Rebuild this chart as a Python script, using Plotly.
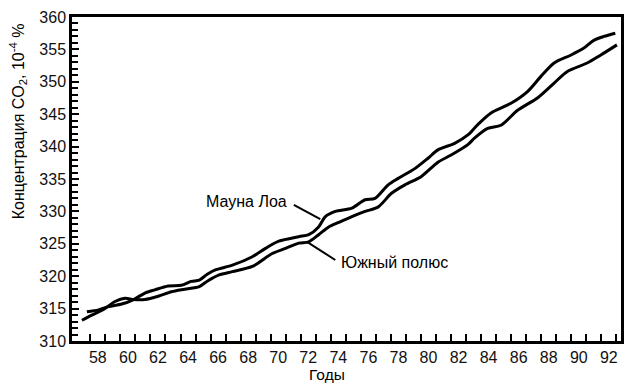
import plotly.graph_objects as go

# Mauna Loa series (year 19xx, CO2 concentration in 10^-4 %)
ml_years = [57.27, 58.05, 58.71, 59.59, 60.38, 61.13, 61.79, 62.68, 63.56, 64.22,
            64.75, 65.28, 65.86, 66.95, 68.28, 69.16, 70.04, 71.37, 72.03, 72.69,
            73.14, 73.80, 74.90, 75.78, 76.44, 77.32, 77.99, 79.09, 79.97, 80.63,
            81.74, 82.62, 83.28, 84.16, 85.49, 86.59, 87.47, 88.36, 89.46, 90.34,
            91.00, 91.67, 92.43]
ml_values = [314.5, 314.8, 315.3, 315.7, 316.4, 317.4, 317.9, 318.5, 318.6, 319.2,
             319.4, 320.3, 321.0, 321.7, 323.0, 324.3, 325.4, 326.1, 326.4, 327.6,
             329.2, 330.0, 330.5, 331.8, 332.0, 334.1, 335.1, 336.6, 338.2, 339.5,
             340.5, 341.8, 343.4, 345.2, 346.7, 348.5, 350.8, 352.9, 354.1, 355.2,
             356.4, 357.0, 357.5]

# South Pole series
sp_years = [56.94, 57.60, 58.46, 59.14, 59.81, 60.38, 61.13, 62.02, 62.90, 63.78,
            64.75, 65.33, 66.07, 66.95, 68.28, 69.60, 70.49, 71.37, 72.03, 72.69,
            73.36, 74.02, 74.90, 75.78, 76.66, 77.54, 78.43, 79.53, 80.63, 81.51,
            82.62, 83.06, 83.94, 84.82, 85.93, 87.25, 88.36, 89.24, 90.56, 91.44,
            92.54]
sp_values = [313.2, 314.0, 315.0, 316.1, 316.6, 316.4, 316.4, 316.9, 317.6, 318.0,
             318.4, 319.3, 320.2, 320.7, 321.5, 323.5, 324.3, 325.1, 325.3, 326.4,
             327.6, 328.3, 329.2, 330.0, 330.7, 332.8, 334.1, 335.4, 337.6, 338.7,
             340.3, 341.3, 342.8, 343.3, 345.6, 347.5, 349.8, 351.6, 352.9, 354.1,
             355.7]

x_tick_vals = list(range(58, 93, 2))
x_tick_text = [str(v) for v in x_tick_vals]
x_minor_vals = [v + 0.5 for v in range(57, 93)]
y_tick_vals = list(range(310, 361, 5))

# label texts and anchor points (data coordinates)
ml_label = "Мауна Лоа"
sp_label = "Южный полюс"
ml_label_pos = (67.88, 331.6)
sp_label_pos = (77.72, 322.1)
ml_leader = ((71.04, 331.0), (72.80, 328.8))
sp_leader = ((71.92, 325.3), (73.80, 322.5))

FONT = "Liberation Sans, Arial, sans-serif"

fig = go.Figure()
for xs, ys, name in [(ml_years, ml_values, ml_label), (sp_years, sp_values, sp_label)]:
    fig.add_trace(go.Scatter(
        x=xs, y=ys, mode="lines", name=name,
        line=dict(color="black", width=3, shape="spline", smoothing=0.8),
        showlegend=False, hoverinfo="x+y",
    ))

for (x0, y0), (x1, y1) in [ml_leader, sp_leader]:
    fig.add_shape(type="line", xref="x", yref="y", x0=x0, y0=y0, x1=x1, y1=y1,
                  line=dict(color="black", width=2))

fig.add_annotation(x=ml_label_pos[0], y=ml_label_pos[1], text=ml_label, showarrow=False,
                   xanchor="center", yanchor="middle", font=dict(size=16, color="black", family=FONT))
fig.add_annotation(x=sp_label_pos[0], y=sp_label_pos[1], text=sp_label, showarrow=False,
                   xanchor="center", yanchor="middle", font=dict(size=16, color="black", family=FONT))

# axis titles
fig.add_annotation(xref="paper", yref="paper", x=(18 - 72) / 552, y=(341 - 121) / 324,
                   text="Концентрация CO<sub>2</sub>, 10<sup>-4</sup> %", textangle=-90,
                   showarrow=False, xanchor="center", yanchor="middle",
                   font=dict(size=16, color="black", family=FONT))
fig.add_annotation(xref="paper", yref="paper", x=(328 - 72) / 552, y=(341 - 374.5) / 324,
                   text="Годы", showarrow=False, xanchor="center", yanchor="middle",
                   font=dict(size=15.5, color="black", family=FONT))

fig.update_layout(
    width=633, height=384,
    margin=dict(l=72, r=9, t=17, b=43),
    paper_bgcolor="white", plot_bgcolor="white",
    font=dict(family=FONT, size=16, color="black"),
    xaxis=dict(
        range=[56.28, 92.81], tickvals=x_tick_vals, ticktext=x_tick_text,
        ticks="", showgrid=False, zeroline=False,
        showline=True, linecolor="black", linewidth=2.5, mirror=True,
        minor=dict(tickvals=x_minor_vals, ticks="inside", ticklen=7, tickwidth=2,
                   tickcolor="black", showgrid=False),
        tickfont=dict(size=16, color="#111"),
    ),
    yaxis=dict(
        range=[310, 360], tickvals=y_tick_vals,
        ticks="inside", ticklen=7, tickwidth=2, tickcolor="black",
        showgrid=False, zeroline=False,
        showline=True, linecolor="black", linewidth=2.5, mirror=True,
        minor=dict(dtick=1, ticks="inside", ticklen=6, tickwidth=1.5,
                   tickcolor="black", showgrid=False),
        tickfont=dict(size=16, color="#111"),
    ),
)

fig.write_html("out.html", config={"displayModeBar": False},
               post_script="document.body.style.margin='0';document.body.style.overflow='hidden';")
